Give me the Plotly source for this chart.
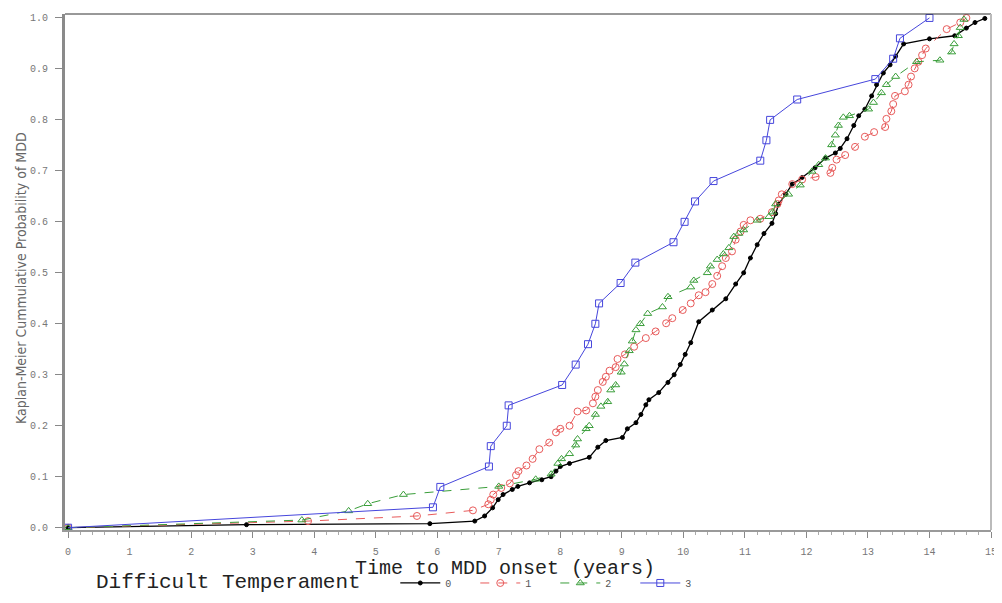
import plotly.graph_objects as go

# ---------------- data ----------------
groups = ["0", "1", "2", "3"]

t0 = [0, 2.9, 5.88, 6.61, 6.77, 6.9, 6.99, 7.07, 7.22, 7.31, 7.5, 7.7, 7.85, 7.93, 8.0, 8.15,
      8.47, 8.61, 8.74, 9.01, 9.09, 9.23, 9.31, 9.39, 9.44, 9.6, 9.75, 9.85, 9.95, 10.03, 10.12,
      10.25, 10.47, 10.69, 10.85, 10.98, 11.09, 11.2, 11.31, 11.44, 11.5, 11.55, 11.66, 11.77,
      11.93, 12.14, 12.31, 12.47, 12.55, 12.66, 12.77, 12.85, 12.95, 13.06, 13.14, 13.25, 13.36,
      13.45, 13.58, 14.0, 14.41, 14.6, 14.74, 14.9]
p0 = [0, 0.006, 0.008, 0.013, 0.023, 0.039, 0.055, 0.065, 0.075, 0.081, 0.088, 0.094, 0.1, 0.111,
      0.12, 0.126, 0.138, 0.158, 0.171, 0.177, 0.194, 0.206, 0.222, 0.241, 0.251, 0.265, 0.285,
      0.3, 0.32, 0.34, 0.363, 0.404, 0.427, 0.449, 0.478, 0.5, 0.529, 0.555, 0.577, 0.597, 0.616,
      0.635, 0.654, 0.674, 0.687, 0.706, 0.725, 0.735, 0.744, 0.763, 0.789, 0.808, 0.821, 0.847,
      0.869, 0.892, 0.908, 0.925, 0.949, 0.959, 0.965, 0.98, 0.991, 0.999]

t1 = [0, 3.9, 5.67, 6.58, 6.83, 6.87, 6.91, 7.04, 7.18, 7.28, 7.32, 7.45, 7.55, 7.66, 7.82, 7.93,
      8.0, 8.15, 8.28, 8.42, 8.53, 8.57, 8.61, 8.69, 8.74, 8.8, 8.9, 8.93, 9.05, 9.2, 9.39, 9.55,
      9.72, 9.82, 9.99, 10.12, 10.25, 10.36, 10.47, 10.55, 10.63, 10.69, 10.79, 10.85, 10.93,
      10.98, 11.09, 11.25, 11.44, 11.53, 11.55, 11.6, 11.77, 11.93, 12.15, 12.39, 12.42, 12.49,
      12.63, 12.79, 12.95, 13.1, 13.28, 13.3, 13.38, 13.41, 13.44, 13.6, 13.66, 13.7, 13.76,
      13.82, 13.88, 13.94, 14.28, 14.5, 14.6]
p1 = [0, 0.013, 0.023, 0.034, 0.046, 0.055, 0.065, 0.078, 0.087, 0.103, 0.111, 0.122, 0.135,
      0.154, 0.167, 0.187, 0.194, 0.2, 0.228, 0.23, 0.244, 0.257, 0.27, 0.286, 0.296, 0.308,
      0.315, 0.331, 0.34, 0.355, 0.372, 0.385, 0.401, 0.411, 0.427, 0.44, 0.456, 0.462, 0.478,
      0.494, 0.513, 0.529, 0.542, 0.565, 0.581, 0.594, 0.603, 0.606, 0.619, 0.635, 0.642, 0.654,
      0.674, 0.683, 0.688, 0.696, 0.706, 0.722, 0.731, 0.747, 0.767, 0.776, 0.786, 0.802, 0.817,
      0.831, 0.847, 0.856, 0.869, 0.885, 0.901, 0.914, 0.927, 0.94, 0.978, 0.991, 1.0]

t2 = [0, 3.8, 4.56, 4.87, 5.45, 7.0, 7.6, 7.85, 7.96, 8.02, 8.15, 8.25, 8.28, 8.42, 8.47, 8.57,
      8.66, 8.77, 8.82, 8.9, 8.99, 9.04, 9.12, 9.17, 9.23, 9.3, 9.42, 9.66, 9.75, 10.12, 10.17,
      10.39, 10.44, 10.55, 10.65, 10.74, 10.82, 10.9, 10.98, 11.2, 11.39, 11.45, 11.5, 11.71,
      11.9, 12.09, 12.2, 12.31, 12.41, 12.47, 12.52, 12.6, 12.7, 13.01, 13.09, 13.22, 13.3,
      13.45, 13.79, 14.17, 14.36, 14.4, 14.47, 14.5, 14.56]
p2 = [0, 0.015, 0.033, 0.047, 0.065, 0.081, 0.095, 0.105, 0.126, 0.135, 0.145, 0.162, 0.174,
      0.194, 0.2, 0.222, 0.238, 0.247, 0.27, 0.28, 0.305, 0.321, 0.347, 0.366, 0.388, 0.4, 0.42,
      0.433, 0.453, 0.472, 0.485, 0.5, 0.513, 0.526, 0.537, 0.549, 0.571, 0.577, 0.584, 0.603,
      0.61, 0.619, 0.635, 0.654, 0.672, 0.699, 0.712, 0.725, 0.751, 0.77, 0.789, 0.805, 0.808,
      0.821, 0.834, 0.853, 0.869, 0.885, 0.914, 0.917, 0.933, 0.949, 0.965, 0.981, 0.997]

t3 = [0, 5.93, 6.05, 6.84, 6.87, 7.13, 7.16, 8.03, 8.25, 8.45, 8.57, 8.63, 8.98, 9.22, 9.84,
      10.02, 10.19, 10.49, 11.25, 11.35, 11.41, 11.85, 13.12, 13.41, 13.52, 14.0]
p3 = [0, 0.04, 0.08, 0.12, 0.16, 0.20, 0.24, 0.28, 0.32, 0.36, 0.40, 0.44, 0.48, 0.52, 0.56,
      0.60, 0.64, 0.68, 0.72, 0.76, 0.80, 0.84, 0.88, 0.92, 0.96, 1.00]

x_ticks = list(range(0, 16))
y_ticks = [0.0, 0.1, 0.2, 0.3, 0.4, 0.5, 0.6, 0.7, 0.8, 0.9, 1.0]
y_tick_labels = ["0.0", "0.1", "0.2", "0.3", "0.4", "0.5", "0.6", "0.7", "0.8", "0.9", "1.0"]

x_title = "Time to MDD onset (years)"
y_title = "Kaplan-Meier Cummulative Probability of MDD"
legend_title = "Difficult Temperament"

# ---------------- styling ----------------
styles = [
    dict(color="#000000", symbol="circle", size=4, dash="solid", lw=1.3),
    dict(color="#e85a5a", symbol="circle-open", size=7, dash="dash", lw=1),
    dict(color="#3a9e3a", symbol="triangle-up-open", size=7, dash="dash", lw=1),
    dict(color="#4646dc", symbol="square-open", size=7, dash="solid", lw=1),
]
series = [(t0, p0), (t1, p1), (t2, p2), (t3, p3)]

# The page body has an 8px margin, so the figure is drawn 8px right/down.
OFF = 8
W, H = 1002 - OFF, 603 - OFF
L, R, T, B = 65 - OFF, 9, 13 - OFF, 64
pw = W - L - R
ph = H - T - B

def px_x(sx):
    return (sx - OFF - L) / pw

def px_y(sy):
    return (H - B - (sy - OFF)) / ph

mono = "Liberation Mono, DejaVu Sans Mono, monospace"

fig = go.Figure()
for name, (t, p), st in zip(groups, series, styles):
    fig.add_trace(go.Scatter(
        x=t, y=p, name=name, mode="lines+markers",
        line=dict(color=st["color"], width=st["lw"], dash=st["dash"]),
        marker=dict(symbol=st["symbol"], size=st["size"], color=st["color"],
                    line=dict(color=st["color"], width=1)),
    ))

fig.update_layout(
    width=W, height=H,
    margin=dict(l=L, r=R, t=T, b=B, pad=0),
    paper_bgcolor="white", plot_bgcolor="white",
    showlegend=True,
    legend=dict(orientation="h", x=px_x(396), xanchor="left", y=px_y(593), yanchor="middle",
                font=dict(family=mono, size=10, color="#555"),
                itemwidth=40, entrywidth=25, entrywidthmode="pixels",
                bgcolor="rgba(0,0,0,0)", borderwidth=0, tracegroupgap=0),
    xaxis=dict(range=[-0.05, 15], tickvals=x_ticks, ticktext=[str(v) for v in x_ticks],
               showgrid=False, zeroline=False, showline=True, linecolor="#9a9a9a", linewidth=2,
               ticks="outside", ticklen=6, tickcolor="#888", tickwidth=1,
               minor=dict(dtick=0.2, ticks="outside", ticklen=3, tickcolor="#aaa", tickwidth=1),
               tickfont=dict(family=mono, size=10, color="#777"), ticklabelstandoff=5,
               ticklabeloverflow="allow"),
    yaxis=dict(range=[-0.0045, 1.0077], tickvals=y_ticks, ticktext=y_tick_labels,
               showgrid=False, zeroline=False, showline=True, linecolor="#8a8a8a", linewidth=3,
               ticks="outside", ticklen=7, tickcolor="#888", tickwidth=1,
               tickfont=dict(family=mono, size=10, color="#777"), ticklabelstandoff=5),
    shapes=[
        dict(type="line", xref="paper", yref="paper", x0=0, x1=1, y0=1, y1=1,
             line=dict(color="#333", width=1)),
        dict(type="line", xref="paper", yref="paper", x0=1, x1=1, y0=0, y1=1,
             line=dict(color="#bbb", width=2)),
    ],
    annotations=[
        dict(text=x_title, xref="paper", yref="paper", x=px_x(506), y=px_y(578),
             xanchor="center", yanchor="middle", showarrow=False,
             font=dict(family=mono, size=20, color="#222")),
        dict(text=legend_title, xref="paper", yref="paper", x=px_x(94), y=px_y(593),
             xanchor="left", yanchor="middle", showarrow=False,
             font=dict(family=mono, size=21, color="#222")),
        dict(text=y_title, xref="paper", yref="paper", x=px_x(21), y=px_y(282),
             xanchor="center", yanchor="middle", showarrow=False, textangle=-90,
             font=dict(family="DejaVu Sans Condensed, Liberation Sans Narrow, sans-serif",
                       size=14, color="#666")),
    ],
)

fig.write_html("out.html")
